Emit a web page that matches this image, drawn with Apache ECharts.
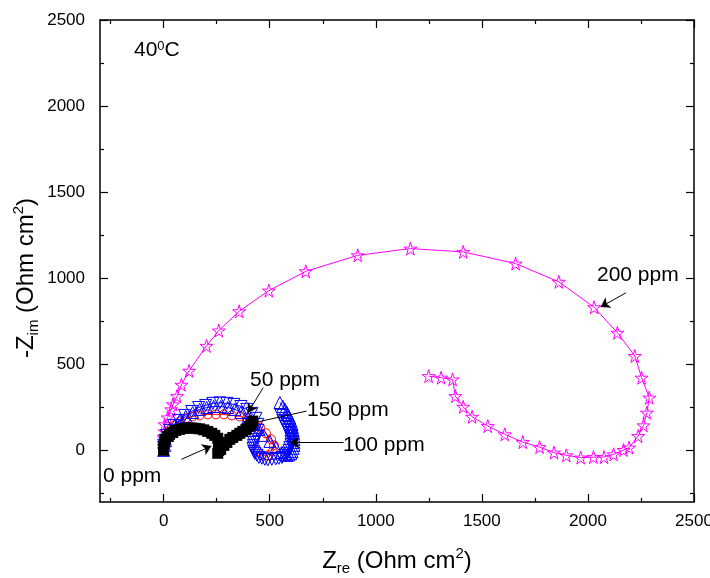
<!DOCTYPE html>
<html>
<head>
<meta charset="utf-8">
<script src="https://cdn.jsdelivr.net/npm/echarts@6/dist/echarts.min.js"></script>
<style>
  html, body { margin: 0; padding: 0; background: #fff; }
  #chart { width: 710px; height: 578px; }
</style>
</head>
<body>
<div id="chart"></div>
<script>
// tick positions
const xMajor = [0, 500, 1000, 1500, 2000, 2500];
const xMinor = [-250, 250, 750, 1250, 1750, 2250];
const yMajor = [0, 500, 1000, 1500, 2000, 2500];
const yMinor = [-250, 250, 750, 1250, 1750, 2250];

// [Zre, -Zim]
const ppm0 = [[0,0],[0,23],[5,46],[9,64],[19,81],[28,93],[43,104],[57,116],[76,122],[95,128],[113,130],[132,130],[151,128],[170,125],[189,119],[208,110],[227,99],[241,87],[255,70],[260,46],[260,23],[260,0],[255,-17],[269,6],[284,29],[298,46],[312,64],[326,75],[345,87],[359,99],[373,110],[388,122],[402,139],[411,151],[420,170]];
const ppm50 = [[0,0],[5,29],[9,64],[19,93],[33,122],[52,145],[76,168],[104,186],[137,197],[170,203],[208,209],[246,209],[284,209],[321,203],[359,197],[392,186],[425,162],[454,133],[482,99],[506,64],[520,29],[515,-6],[491,-29],[463,-29],[444,-6]];
const ppm100 = [[0,0],[5,29],[9,58],[19,87],[33,116],[52,145],[76,174],[104,197],[137,220],[170,238],[203,249],[236,255],[269,255],[302,249],[336,238],[364,220],[397,191],[425,157],[449,122],[473,87],[501,52],[529,17],[558,-12],[572,-23],[581,-29],[591,-26],[600,-17],[605,-6],[610,12],[614,29],[614,46],[614,64],[614,81],[613,99],[610,116],[607,133],[605,151],[600,168],[595,186],[588,203],[581,220],[572,238],[562,255],[548,278]];
const ppm150 = [[0,0],[0,29],[5,58],[14,87],[28,116],[47,145],[71,174],[99,203],[132,226],[165,249],[198,261],[232,273],[265,276],[298,273],[331,267],[364,255],[392,238],[416,215],[435,186],[444,151],[444,116],[435,81],[430,64],[425,46],[423,29],[421,12],[425,-6],[430,-17],[440,-29],[449,-41],[463,-46],[477,-52],[491,-55],[510,-52],[529,-49],[543,-46],[558,-41],[572,-29],[581,-17],[591,0],[595,17],[600,35],[600,52],[600,70],[595,87],[591,104],[584,122],[577,139],[569,157],[562,174],[553,203]];
const ppm200 = [[0,6],[0,41],[0,75],[5,110],[5,151],[19,191],[36,238],[44,267],[63,315],[84,381],[120,462],[202,607],[260,696],[356,808],[496,928],[670,1040],[915,1133],[1163,1172],[1412,1153],[1659,1085],[1863,979],[2029,831],[2139,683],[2221,548],[2253,422],[2289,306],[2278,219],[2262,145],[2237,83],[2194,16],[2168,2],[2121,-23],[2076,-39],[2026,-39],[1966,-42],[1898,-29],[1840,-13],[1772,19],[1693,48],[1608,93],[1528,141],[1454,195],[1412,253],[1375,315],[1362,412],[1308,422],[1249,431]];

// annotation arrows: [from, to] in data units
const arrows = [
  [[2179, 915], [2060, 833]],
  [[469, 364], [398, 219]],
  [[674, 228], [391, 151]],
  [[848, 45], [595, 45]],
  [[84, -52], [225, 25]]
];

const FONT = '"Liberation Sans", Arial, sans-serif';
const STAR = 'path://M50,0 L61,35 L98,35 L68,57 L79,91 L50,70 L21,91 L32,57 L2,35 L39,35 Z';

const chart = echarts.init(document.getElementById('chart'));

function xAx(pos, ticks, len, main) {
  return {
    type: 'value', position: pos, min: -300, max: 2500,
    axisLine: { show: main, onZero: false, lineStyle: { color: '#000', width: 1.5 } },
    axisTick: { show: true, inside: true, length: len, customValues: ticks, lineStyle: { color: '#000', width: 1.2 } },
    axisLabel: { show: main && pos === 'bottom', customValues: ticks, formatter: v => String(v),
      color: '#000', fontSize: 17, fontFamily: FONT, margin: 11 },
    splitLine: { show: false }
  };
}
function yAx(pos, ticks, len, main) {
  return {
    type: 'value', position: pos, min: -300, max: 2500,
    axisLine: { show: main, onZero: false, lineStyle: { color: '#000', width: 1.5 } },
    axisTick: { show: true, inside: true, length: len, customValues: ticks, lineStyle: { color: '#000', width: 1.2 } },
    axisLabel: { show: main && pos === 'left', customValues: ticks, formatter: v => String(v),
      color: '#000', fontSize: 17, fontFamily: FONT, margin: 15 },
    splitLine: { show: false }
  };
}

const rich = {
  sub: { fontSize: 15, lineHeight: 16, verticalAlign: 'bottom', fontFamily: FONT, color: '#000' },
  sup: { fontSize: 15, lineHeight: 16, verticalAlign: 'top', fontFamily: FONT, color: '#000' }
};

const xMain = xAx('bottom', xMajor, 8, true);
xMain.name = 'Z{sub|re} (Ohm cm{sup|2})';
xMain.nameLocation = 'middle';
xMain.nameGap = 44;
xMain.nameTextStyle = { fontSize: 24, lineHeight: 30, color: '#000', fontFamily: FONT, rich: rich };

function openSeries(name, data, symbol, size, color, rotate) {
  return {
    name: name, type: 'line', data: data, symbol: symbol, symbolSize: size,
    symbolRotate: rotate || 0, showAllSymbol: true,
    itemStyle: { color: 'rgba(0,0,0,0)', borderColor: color, borderWidth: 1 },
    lineStyle: { color: color, width: 1 }
  };
}

function annot(text, x, y) {
  return {
    type: 'text', x: x, y: y, z: 100,
    style: {
      text: text, fill: '#000', fontSize: 21, fontFamily: FONT,
      align: 'left', verticalAlign: 'middle',
      rich: { sup: { fontSize: 13, lineHeight: 13, verticalAlign: 'top', fontFamily: FONT, fill: '#000' } }
    }
  };
}

const option = {
  animation: false,
  backgroundColor: '#fff',
  grid: { left: 100, right: 16, top: 20, bottom: 76, containLabel: false, outerBoundsMode: 'none' },
  xAxis: [xMain, xAx('bottom', xMinor, 4, false), xAx('top', xMajor, 8, true), xAx('top', xMinor, 4, false)],
  yAxis: [yAx('left', yMajor, 8, true), yAx('left', yMinor, 4, false), yAx('right', yMajor, 8, true), yAx('right', yMinor, 4, false)],
  series: [
    openSeries('200 ppm', ppm200, STAR, 13, '#ff00ff'),
    openSeries('50 ppm', ppm50, 'circle', 9, '#ff0000'),
    openSeries('100 ppm', ppm100, 'triangle', 12, '#0000ff'),
    openSeries('150 ppm', ppm150, 'triangle', 12, '#0000ff', 180),
    {
      name: '0 ppm', type: 'line', data: ppm0, symbol: 'rect', symbolSize: 11, showAllSymbol: true,
      itemStyle: { color: '#000' }, lineStyle: { color: '#000', width: 1 },
      markLine: {
        silent: true, symbol: ['none', 'arrow'], symbolSize: 9,
        label: { show: false },
        lineStyle: { color: '#000', width: 1, type: 'solid' },
        data: arrows.map(a => [{ coord: a[0] }, { coord: a[1] }])
      }
    }
  ],
  graphic: [
    annot('40{sup|0}C', 134, 50),
    annot('50 ppm', 250, 380),
    annot('150 ppm', 307, 410),
    annot('100 ppm', 343, 445),
    annot('0 ppm', 103, 476),
    annot('200 ppm', 597, 275),
    {
      type: 'text', x: 26, y: 278, rotation: Math.PI / 2, z: 100,
      style: {
        text: '-Z{sub|im} (Ohm cm{sup|2})', fill: '#000', fontSize: 24, lineHeight: 30, fontFamily: FONT,
        align: 'center', verticalAlign: 'middle',
        rich: {
          sub: { fontSize: 15, lineHeight: 16, verticalAlign: 'bottom', fontFamily: FONT, fill: '#000' },
          sup: { fontSize: 15, lineHeight: 16, verticalAlign: 'top', fontFamily: FONT, fill: '#000' }
        }
      }
    }
  ]
};
chart.setOption(option);
</script>
</body>
</html>
